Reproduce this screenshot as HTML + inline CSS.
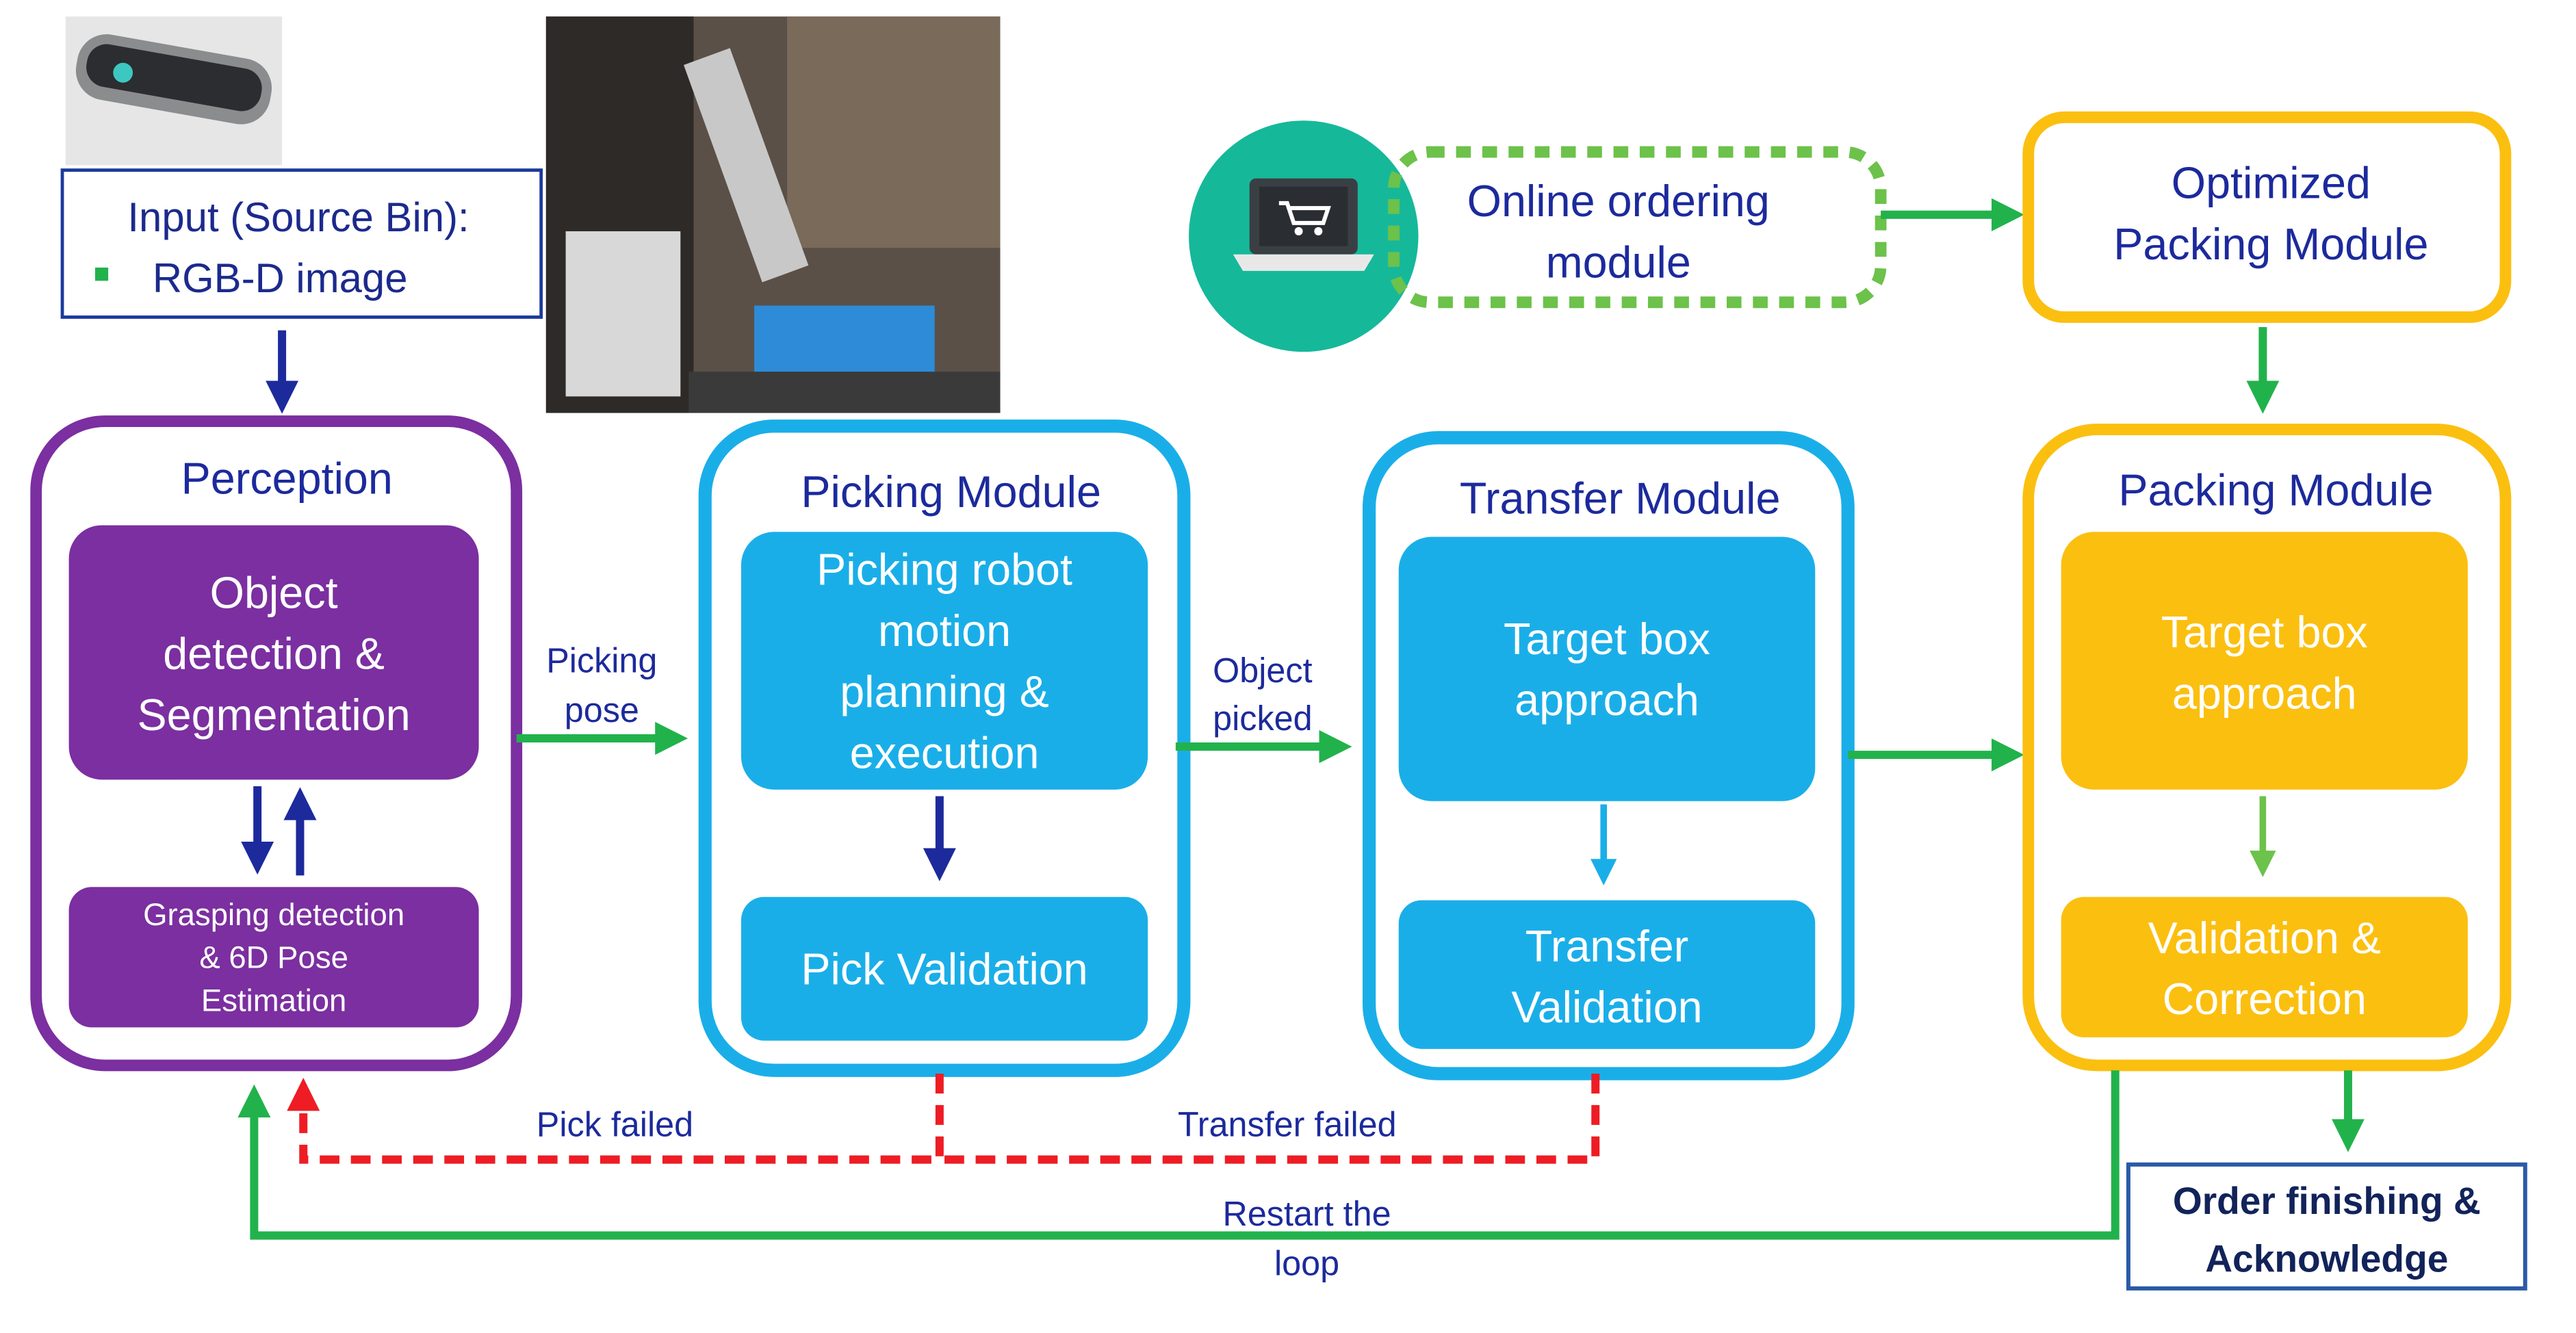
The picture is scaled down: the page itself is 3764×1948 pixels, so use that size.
<!DOCTYPE html>
<html><head><meta charset="utf-8"><style>
html,body{margin:0;padding:0;background:#fff;}
svg{display:block;}
text{font-family:"Liberation Sans",Arial,sans-serif;}
</style></head><body>
<svg width="3764" height="1948" viewBox="0 0 1571 807" preserveAspectRatio="none" xmlns="http://www.w3.org/2000/svg">
<defs>
<marker id="ag" markerWidth="4" markerHeight="4" refX="2.5" refY="2" orient="auto" markerUnits="strokeWidth"><path d="M0,0 L4,2 L0,4 Z" fill="#22b24c"/></marker>
<marker id="ab" markerWidth="4" markerHeight="4" refX="2.5" refY="2" orient="auto" markerUnits="strokeWidth"><path d="M0,0 L4,2 L0,4 Z" fill="#1c2a9c"/></marker>
<marker id="ac" markerWidth="4" markerHeight="4" refX="2.5" refY="2" orient="auto" markerUnits="strokeWidth"><path d="M0,0 L4,2 L0,4 Z" fill="#1aaee8"/></marker>
<marker id="al" markerWidth="4" markerHeight="4" refX="2.5" refY="2" orient="auto" markerUnits="strokeWidth"><path d="M0,0 L4,2 L0,4 Z" fill="#6cc24a"/></marker>
<marker id="ar" markerWidth="4" markerHeight="4" refX="2.5" refY="2" orient="auto" markerUnits="strokeWidth"><path d="M0,0 L4,2 L0,4 Z" fill="#ee1c24"/></marker>
</defs>

<!-- camera -->
<rect x="40" y="10" width="132" height="90" fill="#e6e6e6"/>
<rect x="46" y="28" width="120" height="40" rx="18" fill="#8a8c8e" transform="rotate(10 106 48)"/>
<rect x="52" y="34" width="108" height="26" rx="12" fill="#2b2d30" transform="rotate(10 106 48)"/>
<circle cx="75" cy="44" r="6" fill="#3cc8c0"/>
<!-- input box -->
<rect x="38" y="103" width="292" height="89" fill="#fff" stroke="#1c3a9c" stroke-width="2"/>
<text x="182" y="140" font-size="25" fill="#1c2a8c" text-anchor="middle">Input (Source Bin):</text>
<rect x="58" y="162" width="8" height="8" fill="#22b24c"/>
<text x="93" y="177" font-size="25" fill="#1c2a8c">RGB-D image</text>
<!-- photo -->
<rect x="333" y="10" width="277" height="240" fill="#5a5048"/>
<rect x="333" y="10" width="90" height="240" fill="#2e2a28"/>
<rect x="480" y="10" width="130" height="140" fill="#7a6a5a"/>
<rect x="440" y="30" width="30" height="140" fill="#c8c8c8" transform="rotate(-20 455 100)"/>
<rect x="345" y="140" width="70" height="100" fill="#d8d8d8"/>
<rect x="460" y="185" width="110" height="55" fill="#2d8bd8"/>
<rect x="420" y="225" width="190" height="25" fill="#3a3a3a"/>

<line x1="172" y1="200" x2="172" y2="243" stroke="#1c2a9c" stroke-width="5" marker-end="url(#ab)"/>

<!-- Perception -->
<rect x="22" y="255" width="293" height="390" rx="42" fill="#fff" stroke="#7b2fa0" stroke-width="7"/>
<text x="175" y="299" font-size="27" fill="#1c2a9c" text-anchor="middle">Perception</text>
<rect x="42" y="318" width="250" height="154" rx="20" fill="#7b2fa0"/>
<text font-size="27" fill="#fff" text-anchor="middle"><tspan x="167" y="368">Object</tspan><tspan x="167" y="405">detection &amp;</tspan><tspan x="167" y="442">Segmentation</tspan></text>
<line x1="157" y1="476" x2="157" y2="522" stroke="#1c2a9c" stroke-width="5" marker-end="url(#ab)"/>
<line x1="183" y1="530" x2="183" y2="484" stroke="#1c2a9c" stroke-width="5" marker-end="url(#ab)"/>
<rect x="42" y="537" width="250" height="85" rx="14" fill="#7b2fa0"/>
<text font-size="19" fill="#fff" text-anchor="middle"><tspan x="167" y="560">Grasping detection</tspan><tspan x="167" y="586">&amp; 6D Pose</tspan><tspan x="167" y="612">Estimation</tspan></text>

<line x1="315" y1="447" x2="412" y2="447" stroke="#22b24c" stroke-width="5" marker-end="url(#ag)"/>
<text font-size="21" fill="#1c2a9c" text-anchor="middle"><tspan x="367" y="407">Picking</tspan><tspan x="367" y="437">pose</tspan></text>

<!-- Picking -->
<rect x="430" y="258" width="292" height="390" rx="42" fill="#fff" stroke="#1aaee8" stroke-width="8"/>
<text x="580" y="307" font-size="27" fill="#1c2a9c" text-anchor="middle">Picking Module</text>
<rect x="452" y="322" width="248" height="156" rx="20" fill="#1aaee8"/>
<text font-size="27" fill="#fff" text-anchor="middle"><tspan x="576" y="354">Picking robot</tspan><tspan x="576" y="391">motion</tspan><tspan x="576" y="428">planning &amp;</tspan><tspan x="576" y="465">execution</tspan></text>
<line x1="573" y1="482" x2="573" y2="526" stroke="#1c2a9c" stroke-width="5" marker-end="url(#ab)"/>
<rect x="452" y="543" width="248" height="87" rx="14" fill="#1aaee8"/>
<text x="576" y="596" font-size="27" fill="#fff" text-anchor="middle">Pick Validation</text>

<line x1="717" y1="452" x2="817" y2="452" stroke="#22b24c" stroke-width="5" marker-end="url(#ag)"/>
<text font-size="21" fill="#1c2a9c" text-anchor="middle"><tspan x="770" y="413">Object</tspan><tspan x="770" y="442">picked</tspan></text>

<!-- Transfer -->
<rect x="835" y="265" width="292" height="385" rx="42" fill="#fff" stroke="#1aaee8" stroke-width="8"/>
<text x="988" y="311" font-size="27" fill="#1c2a9c" text-anchor="middle">Transfer Module</text>
<rect x="853" y="325" width="254" height="160" rx="20" fill="#1aaee8"/>
<text font-size="27" fill="#fff" text-anchor="middle"><tspan x="980" y="396">Target box</tspan><tspan x="980" y="433">approach</tspan></text>
<line x1="978" y1="487" x2="978" y2="530" stroke="#1aaee8" stroke-width="4" marker-end="url(#ac)"/>
<rect x="853" y="545" width="254" height="90" rx="14" fill="#1aaee8"/>
<text font-size="27" fill="#fff" text-anchor="middle"><tspan x="980" y="582">Transfer</tspan><tspan x="980" y="619">Validation</tspan></text>

<line x1="1127" y1="457" x2="1227" y2="457" stroke="#22b24c" stroke-width="5" marker-end="url(#ag)"/>

<!-- Online ordering -->
<circle cx="795" cy="143" r="70" fill="#16b89a"/>
<rect x="762" y="108" width="66" height="46" rx="4" fill="#3a3f44"/>
<rect x="768" y="113" width="54" height="36" fill="#2a2e33"/>
<path d="M780,123 h5 l4,12 h18 l3,-9 h-23" fill="none" stroke="#fff" stroke-width="2.5"/>
<circle cx="792" cy="140" r="2.5" fill="#fff"/><circle cx="804" cy="140" r="2.5" fill="#fff"/>
<path d="M752,154 h86 l-6,10 h-74 Z" fill="#e8e8e8"/>
<rect x="850" y="92" width="297" height="91" rx="22" fill="none" stroke="#6cc24a" stroke-width="7" stroke-dasharray="9,7"/>
<text font-size="27" fill="#1c2a9c" text-anchor="middle"><tspan x="987" y="131">Online ordering</tspan><tspan x="987" y="168">module</tspan></text>
<line x1="1147" y1="130" x2="1227" y2="130" stroke="#22b24c" stroke-width="5" marker-end="url(#ag)"/>

<!-- Optimized packing -->
<rect x="1237" y="71" width="291" height="121" rx="22" fill="#fff" stroke="#fbbf10" stroke-width="7"/>
<text font-size="27" fill="#1c2a9c" text-anchor="middle"><tspan x="1385" y="120">Optimized</tspan><tspan x="1385" y="157">Packing Module</tspan></text>
<line x1="1380" y1="198" x2="1380" y2="243" stroke="#22b24c" stroke-width="5" marker-end="url(#ag)"/>

<!-- Packing -->
<rect x="1237" y="260" width="291" height="385" rx="42" fill="#fff" stroke="#fbbf10" stroke-width="7"/>
<text x="1388" y="306" font-size="27" fill="#1c2a9c" text-anchor="middle">Packing Module</text>
<rect x="1257" y="322" width="248" height="156" rx="20" fill="#fbbf10"/>
<text font-size="27" fill="#fff" text-anchor="middle"><tspan x="1381" y="392">Target box</tspan><tspan x="1381" y="429">approach</tspan></text>
<line x1="1380" y1="482" x2="1380" y2="525" stroke="#6cc24a" stroke-width="4" marker-end="url(#al)"/>
<rect x="1257" y="543" width="248" height="85" rx="14" fill="#fbbf10"/>
<text font-size="27" fill="#fff" text-anchor="middle"><tspan x="1381" y="577">Validation &amp;</tspan><tspan x="1381" y="614">Correction</tspan></text>

<!-- red dashed -->
<path d="M573,650 V702 H185 V660" fill="none" stroke="#ee1c24" stroke-width="5" stroke-dasharray="12,7" marker-end="url(#ar)"/>
<path d="M973,650 V702 H573" fill="none" stroke="#ee1c24" stroke-width="5" stroke-dasharray="12,7"/>
<text x="375" y="688" font-size="21" fill="#1c2a9c" text-anchor="middle">Pick failed</text>
<text x="785" y="688" font-size="21" fill="#1c2a9c" text-anchor="middle">Transfer failed</text>

<!-- green loop -->
<path d="M1290,648 V748 H155 V664" fill="none" stroke="#22b24c" stroke-width="5" marker-end="url(#ag)"/>
<text font-size="21" fill="#1c2a9c" text-anchor="middle"><tspan x="797" y="742">Restart the</tspan><tspan x="797" y="772">loop</tspan></text>

<line x1="1432" y1="648" x2="1432" y2="690" stroke="#22b24c" stroke-width="5" marker-end="url(#ag)"/>
<rect x="1298" y="705" width="242" height="75" fill="#fff" stroke="#2a5aa8" stroke-width="2.5"/>
<text font-size="23" font-weight="bold" fill="#12235a" text-anchor="middle"><tspan x="1419" y="735">Order finishing &amp;</tspan><tspan x="1419" y="770">Acknowledge</tspan></text>
</svg>
</body></html>
